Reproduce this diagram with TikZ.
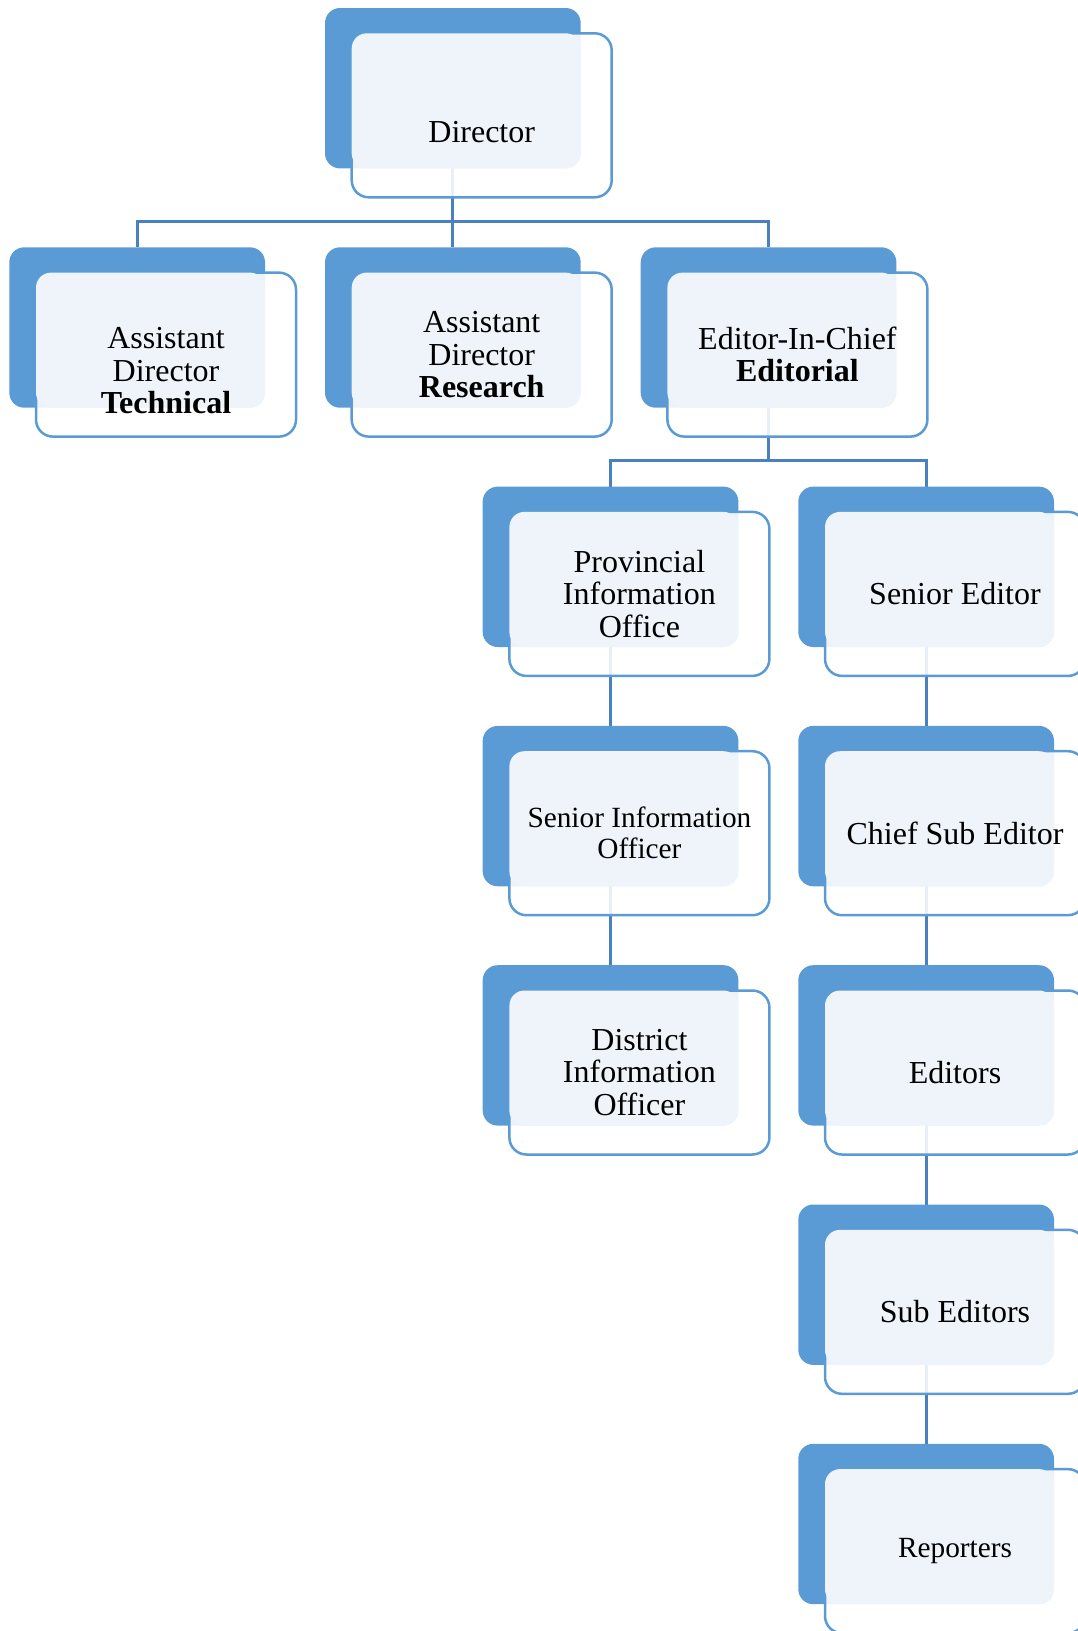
\documentclass[tikz,border=0pt]{standalone}
\usepackage{fontspec}
\setmainfont{Liberation Serif}
\usetikzlibrary{calc}
\definecolor{boxblue}{HTML}{5B9BD5}
\definecolor{paneblue}{HTML}{EEF4FA}
\definecolor{linkblue}{HTML}{4A80BE}
\pgfdeclarelayer{background}
\pgfsetlayers{background,main}

\tikzset{
  backbox/.style={anchor=north west, fill=boxblue, rounded corners=15pt,
    minimum width=255.7pt, minimum height=160.4pt, inner sep=0pt, outer sep=0pt},
  frontbox/.style={anchor=north west, draw=boxblue, line width=2.5pt, fill=white,
    fill opacity=0.88, rounded corners=17pt,
    minimum width=260pt, minimum height=164pt, inner sep=0pt, outer sep=0pt},
  panebox/.style={anchor=north west, fill=paneblue, rounded corners=15pt,
    minimum width=229pt, minimum height=135.1pt, inner sep=0pt, outer sep=0pt},
  unittext/.style={align=center, inner sep=0pt, text=black,
    font=\fontsize{32}{32.5}\selectfont},
  smalltext/.style={font=\fontsize{29.3}{31}\selectfont},
  link/.style={draw=linkblue, line width=3pt},
}

% one org-chart unit: back tab, outlined card, tinted pane and its label
\newcommand{\orgunit}[5][]{%
  \node[backbox] (#2B) at (#3,#4) {};
  \node[frontbox] (#2F) at (#3+26.7,#4+25.3) {};
  \node[panebox] (#2P) at (#3+26.7,#4+25.3) {};
  \node[unittext,#1] (#2) at (#2F.center) {#5};
}

\begin{document}
\begin{tikzpicture}[x=1pt,y=-1pt]
\clip (0,0) rectangle (1078,1631);

% level 1
\orgunit[yshift=-16.5pt]{dir}{325}{8}{Director}
% level 2
\orgunit[yshift=-16pt]{adt}{9.3}{247.3}{Assistant\\Director\\\textbf{Technical}}
\orgunit{adr}{325}{247.3}{Assistant\\Director\\\textbf{Research}}
\orgunit{eic}{640.7}{247.3}{Editor-In-Chief\\\textbf{Editorial}}
% level 3 and below, information branch
\orgunit{pio}{482.7}{486.6}{Provincial\\Information\\Office}
\orgunit[smalltext]{sio}{482.7}{725.9}{Senior Information\\Officer}
\orgunit{dio}{482.7}{965.2}{District\\Information\\Officer}
% level 3 and below, editorial branch
\orgunit{sed}{798.3}{486.6}{Senior Editor}
\orgunit{cse}{798.3}{725.9}{Chief Sub Editor}
\orgunit{eds}{798.3}{965.2}{Editors}
\orgunit{sub}{798.3}{1204.5}{Sub Editors}
\orgunit[smalltext]{rep}{798.3}{1443.8}{Reporters}

\begin{pgfonlayer}{background}
  \draw[link] (dirB.south) -- ++(0,53.3) -| (adtB.north);
  \draw[link] (dirB.south) -- (adrB.north);
  \draw[link] (dirB.south) -- ++(0,53.3) -| (eicB.north);
  \draw[link] (eicB.south) -- ++(0,53) -| (pioB.north);
  \draw[link] (eicB.south) -- ++(0,53) -| (sedB.north);
  \draw[link] (pioB.south) -- (sioB.north);
  \draw[link] (sioB.south) -- (dioB.north);
  \draw[link] (sedB.south) -- (cseB.north);
  \draw[link] (cseB.south) -- (edsB.north);
  \draw[link] (edsB.south) -- (subB.north);
  \draw[link] (subB.south) -- (repB.north);
\end{pgfonlayer}
\end{tikzpicture}
\end{document}
